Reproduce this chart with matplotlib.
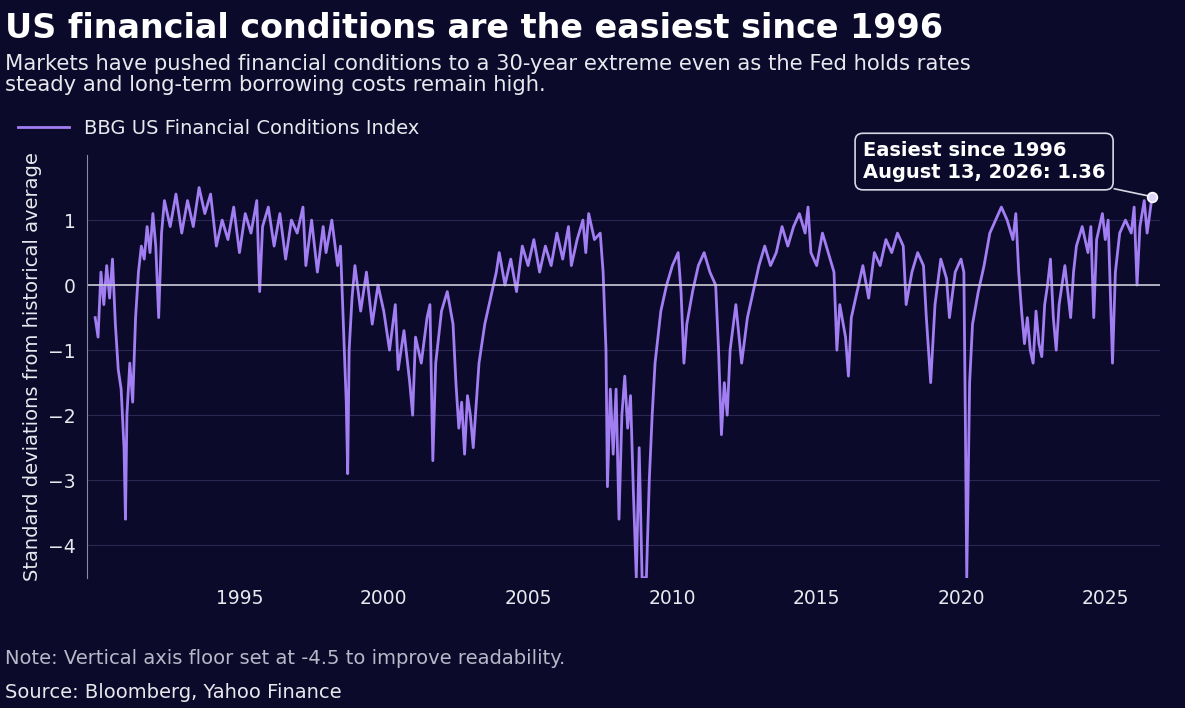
import numpy as np
import matplotlib
matplotlib.use("Agg")
import matplotlib.pyplot as plt

# decimal year, index value (std devs from historical average)
years = [1990.0, 1990.1, 1990.2, 1990.3, 1990.4, 1990.5, 1990.6, 1990.7, 1990.8, 1990.9,
         1991.0, 1991.05, 1991.1, 1991.2, 1991.3, 1991.4, 1991.5, 1991.6, 1991.7, 1991.8,
         1991.9, 1992.0, 1992.1, 1992.2, 1992.3, 1992.4, 1992.6, 1992.8, 1993.0, 1993.2,
         1993.4, 1993.6, 1993.8, 1994.0, 1994.2, 1994.4, 1994.6, 1994.8, 1995.0, 1995.2,
         1995.4, 1995.6, 1995.7, 1995.8, 1996.0, 1996.2, 1996.4, 1996.6, 1996.8, 1997.0,
         1997.2, 1997.3, 1997.5, 1997.7, 1997.9, 1998.0, 1998.2, 1998.4, 1998.5, 1998.6,
         1998.7, 1998.75, 1998.8, 1998.9, 1999.0, 1999.2, 1999.4, 1999.6, 1999.8, 2000.0,
         2000.2, 2000.4, 2000.5, 2000.7, 2000.9, 2001.0, 2001.1, 2001.3, 2001.5, 2001.6,
         2001.7, 2001.8, 2002.0, 2002.2, 2002.4, 2002.5, 2002.6, 2002.7, 2002.8, 2002.9,
         2003.0, 2003.1, 2003.3, 2003.5, 2003.7, 2003.9, 2004.0, 2004.2, 2004.4, 2004.6,
         2004.8, 2005.0, 2005.2, 2005.4, 2005.6, 2005.8, 2006.0, 2006.2, 2006.4, 2006.5,
         2006.7, 2006.9, 2007.0, 2007.1, 2007.3, 2007.5, 2007.6, 2007.7, 2007.75, 2007.85,
         2007.95, 2008.05, 2008.15, 2008.25, 2008.35, 2008.45, 2008.55, 2008.65, 2008.75, 2008.85,
         2008.95, 2009.1, 2009.2, 2009.3, 2009.4, 2009.6, 2009.8, 2010.0, 2010.2, 2010.3,
         2010.4, 2010.5, 2010.7, 2010.9, 2011.1, 2011.3, 2011.5, 2011.6, 2011.7, 2011.8,
         2011.9, 2012.0, 2012.2, 2012.4, 2012.6, 2012.8, 2013.0, 2013.2, 2013.4, 2013.6,
         2013.8, 2014.0, 2014.2, 2014.4, 2014.6, 2014.7, 2014.8, 2015.0, 2015.2, 2015.4,
         2015.6, 2015.7, 2015.8, 2016.0, 2016.1, 2016.2, 2016.4, 2016.6, 2016.8, 2017.0,
         2017.2, 2017.4, 2017.6, 2017.8, 2018.0, 2018.1, 2018.3, 2018.5, 2018.7, 2018.8,
         2018.95, 2019.1, 2019.3, 2019.5, 2019.6, 2019.8, 2020.0, 2020.1, 2020.15, 2020.2,
         2020.25, 2020.3, 2020.4, 2020.6, 2020.8, 2021.0, 2021.2, 2021.4, 2021.6, 2021.8,
         2021.9, 2022.0, 2022.1, 2022.2, 2022.3, 2022.4, 2022.5, 2022.6, 2022.7, 2022.8,
         2022.9, 2023.0, 2023.1, 2023.2, 2023.3, 2023.4, 2023.6, 2023.8, 2023.9, 2024.0,
         2024.2, 2024.4, 2024.5, 2024.6, 2024.7, 2024.9, 2025.0, 2025.1, 2025.25, 2025.35,
         2025.5, 2025.7, 2025.9, 2026.0, 2026.1, 2026.2, 2026.35, 2026.45, 2026.62]
fci = [-0.5, -0.8, 0.2, -0.3, 0.3, -0.2, 0.4, -0.6, -1.3, -1.6,
       -2.5, -3.6, -2.0, -1.2, -1.8, -0.5, 0.2, 0.6, 0.4, 0.9,
       0.5, 1.1, 0.6, -0.5, 0.8, 1.3, 0.9, 1.4, 0.8, 1.3,
       0.9, 1.5, 1.1, 1.4, 0.6, 1.0, 0.7, 1.2, 0.5, 1.1,
       0.8, 1.3, -0.1, 0.9, 1.2, 0.6, 1.1, 0.4, 1.0, 0.8,
       1.2, 0.3, 1.0, 0.2, 0.9, 0.5, 1.0, 0.3, 0.6, -0.6,
       -1.8, -2.9, -1.0, -0.2, 0.3, -0.4, 0.2, -0.6, 0.0, -0.4,
       -1.0, -0.3, -1.3, -0.7, -1.5, -2.0, -0.8, -1.2, -0.5, -0.3,
       -2.7, -1.2, -0.4, -0.1, -0.6, -1.5, -2.2, -1.8, -2.6, -1.7,
       -2.0, -2.5, -1.2, -0.6, -0.2, 0.2, 0.5, 0.0, 0.4, -0.1,
       0.6, 0.3, 0.7, 0.2, 0.6, 0.3, 0.8, 0.4, 0.9, 0.3,
       0.7, 1.0, 0.5, 1.1, 0.7, 0.8, 0.2, -1.0, -3.1, -1.6,
       -2.6, -1.6, -3.6, -2.0, -1.4, -2.2, -1.7, -3.2, -4.5, -2.5,
       -4.5, -4.5, -3.0, -2.0, -1.2, -0.4, 0.0, 0.3, 0.5, -0.1,
       -1.2, -0.6, -0.1, 0.3, 0.5, 0.2, 0.0, -1.0, -2.3, -1.5,
       -2.0, -1.0, -0.3, -1.2, -0.5, -0.1, 0.3, 0.6, 0.3, 0.5,
       0.9, 0.6, 0.9, 1.1, 0.8, 1.2, 0.5, 0.3, 0.8, 0.5,
       0.2, -1.0, -0.3, -0.8, -1.4, -0.5, -0.1, 0.3, -0.2, 0.5,
       0.3, 0.7, 0.5, 0.8, 0.6, -0.3, 0.2, 0.5, 0.3, -0.5,
       -1.5, -0.3, 0.4, 0.1, -0.5, 0.2, 0.4, 0.2, -2.0, -4.5,
       -3.0, -1.5, -0.6, -0.1, 0.3, 0.8, 1.0, 1.2, 1.0, 0.7,
       1.1, 0.2, -0.4, -0.9, -0.5, -1.0, -1.2, -0.4, -0.9, -1.1,
       -0.3, 0.0, 0.4, -0.5, -1.0, -0.3, 0.3, -0.5, 0.2, 0.6,
       0.9, 0.5, 0.9, -0.5, 0.7, 1.1, 0.7, 1.0, -1.2, 0.2,
       0.8, 1.0, 0.8, 1.2, 0.0, 0.9, 1.3, 0.8, 1.36]

x_ticks = [1995, 2000, 2005, 2010, 2015, 2020, 2025]
y_ticks = [-4, -3, -2, -1, 0, 1]

bg = "#0c0a2b"
purple = "#a17ef2"
fg = "#e8e8ee"

plt.rcParams["font.family"] = ["DejaVu Sans"]
fig = plt.figure(figsize=(11.85, 7.08), dpi=100, facecolor=bg)
ax = fig.add_axes([0.073, 0.184, 0.906, 0.597], facecolor=bg)

ax.plot(years, fci, color=purple, lw=2.0, label="BBG US Financial Conditions Index")
ax.axhline(0, color="#c9c9d6", lw=1.2)
ax.set_xlim(1989.7, 2026.9)
ax.set_ylim(-4.5, 2.0)
ax.set_xticks(x_ticks)
ax.set_yticks(y_ticks)
ax.tick_params(colors=fg, labelsize=13.5, length=0, pad=8)
ax.grid(axis="y", color="#2a2850", lw=0.8)
for s in ["top", "right", "bottom"]:
    ax.spines[s].set_visible(False)
ax.spines["left"].set_color("#8a8aa0")
ax.set_ylabel("Standard deviations from historical average", color=fg, fontsize=14)

ax.plot([years[-1]], [fci[-1]], "o", ms=7, mfc="#e0d4ff", mec="white", mew=1.2, zorder=5)
ax.annotate("Easiest since 1996\nAugust 13, 2026: 1.36", xy=(years[-1], fci[-1]),
            xytext=(2016.6, 1.9), color="white", fontsize=14, fontweight="bold",
            ha="left", va="center", linespacing=1.2,
            bbox=dict(boxstyle="round,pad=0.4", fc=bg, ec="#d8d8e4", lw=1.2),
            arrowprops=dict(arrowstyle="-", color="#d8d8e4", lw=1.2))

leg = ax.legend(loc="lower left", bbox_to_anchor=(-0.08, 1.0), frameon=False,
                fontsize=14, labelcolor=fg, handlelength=2.6)

fig.text(0.004, 0.96, "US financial conditions are the easiest since 1996",
         color="white", fontsize=24, fontweight="bold", va="center")
fig.text(0.004, 0.895, "Markets have pushed financial conditions to a 30-year extreme even as the Fed holds rates\n"
         "steady and long-term borrowing costs remain high.",
         color=fg, fontsize=15.2, va="center", linespacing=1.1)
fig.text(0.004, 0.07, "Note: Vertical axis floor set at -4.5 to improve readability.",
         color="#b8b8c8", fontsize=14, va="center")
fig.text(0.004, 0.022, "Source: Bloomberg, Yahoo Finance", color=fg, fontsize=14, va="center")

fig.savefig("out.png", dpi=100, facecolor=bg)
